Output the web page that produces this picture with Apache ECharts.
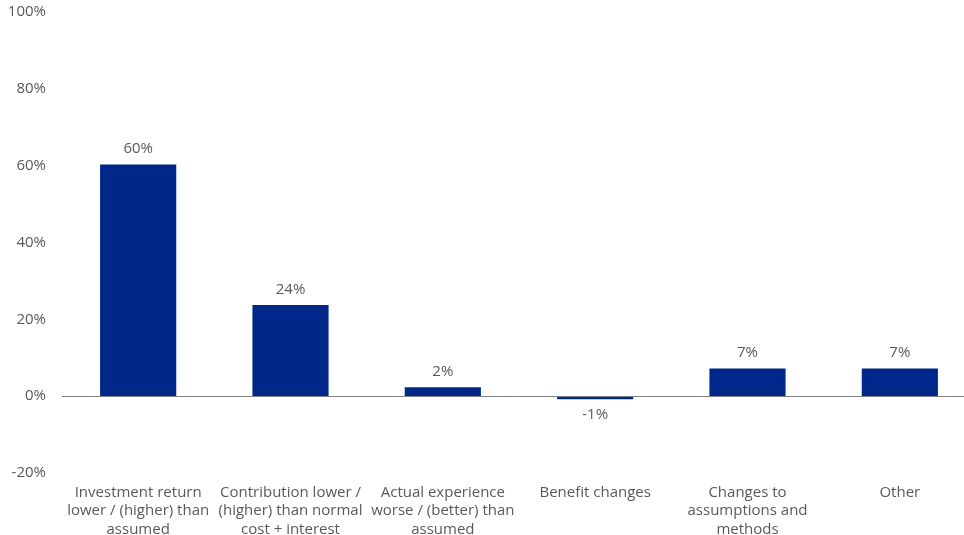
<!DOCTYPE html>
<html>
<head>
<meta charset="utf-8">
<script src="https://cdn.jsdelivr.net/npm/echarts@6/dist/echarts.min.js"></script>
<style>html,body{margin:0;padding:0;background:#fff}#c{width:964px;height:535px}</style>
</head>
<body>
<div id="c"></div>
<script>
const categories = [
  "Investment return\nlower / (higher) than\nassumed",
  "Contribution lower /\n(higher) than normal\ncost + interest",
  "Actual experience\nworse / (better) than\nassumed",
  "Benefit changes",
  "Changes to\nassumptions and\nmethods",
  "Other"
];
const values = [60.3, 23.7, 2.3, -0.8, 7.2, 7.2];
const labels = ["60%", "24%", "2%", "-1%", "7%", "7%"];
const yTicks = [-20, 0, 20, 40, 60, 80, 100];

const chart = echarts.init(document.getElementById('c'));
const font = '"Open Sans", "Noto Sans", sans-serif';
chart.setOption({
  animation: false,
  grid: { left: 62, right: -12, top: 12, bottom: 62, outerBoundsMode: 'none', containLabel: false },
  xAxis: {
    type: 'category',
    data: categories,
    axisLine: { show: false, onZero: false },
    axisTick: { show: false },
    axisLabel: { color: '#595959', fontFamily: font, fontSize: 15, lineHeight: 18.5, margin: 10, interval: 0 }
  },
  yAxis: {
    type: 'value',
    min: yTicks[0], max: yTicks[yTicks.length - 1], interval: 20,
    axisLine: { show: false },
    axisTick: { show: false },
    splitLine: { show: false },
    axisLabel: { color: '#595959', fontFamily: font, fontSize: 15, margin: 16, formatter: v => v + '%' }
  },
  series: [{
    type: 'bar',
    data: values.map((v, i) => ({
      value: v,
      label: { position: v < 0 ? 'bottom' : 'top' }
    })),
    barWidth: '50%',
    itemStyle: { color: '#00288A' },
    label: {
      show: true,
      color: '#595959', fontFamily: font, fontSize: 15, distance: 8,
      formatter: p => labels[p.dataIndex]
    },
    markLine: {
      silent: true, symbol: 'none',
      label: { show: false },
      lineStyle: { color: '#808080', width: 1, type: 'solid' },
      data: [{ yAxis: 0 }]
    }
  }]
});
</script>
</body>
</html>
